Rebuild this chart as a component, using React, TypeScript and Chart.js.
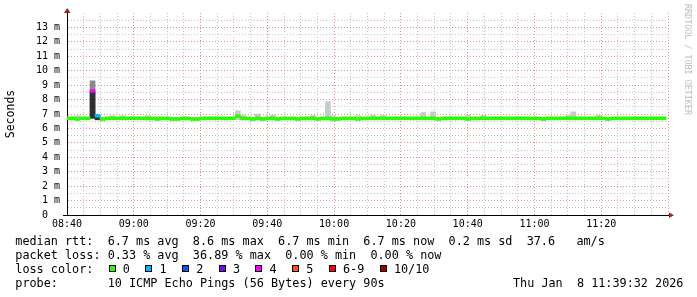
import React, { useEffect, useRef } from "react";
import { Chart, registerables } from "chart.js";

Chart.register(...registerables);

// ---- tick labels ----
const timeLabels = ["08:40", "09:00", "09:20", "09:40", "10:00", "10:20", "10:40", "11:00", "11:20"];
const yTickLabels = ["0  ", "1 m", "2 m", "3 m", "4 m", "5 m", "6 m", "7 m", "8 m", "9 m", "10 m", "11 m", "12 m", "13 m"];

// ---- per 90 s step values (ms), first entry is the partial step at the left edge ----
const medianMs = [
  6.7, 6.7, 6.65, 6.7, 6.7, 8.6, 6.88, 6.65, 6.7, 6.7,
  6.7, 6.7, 6.7, 6.7, 6.7, 6.7, 6.7, 6.7, 6.65, 6.7,
  6.7, 6.65, 6.65, 6.7, 6.7, 6.65, 6.65, 6.7, 6.7, 6.7,
  6.7, 6.7, 6.7, 6.7, 6.85, 6.7, 6.7, 6.65, 6.7, 6.65,
  6.7, 6.7, 6.65, 6.7, 6.7, 6.7, 6.65, 6.7, 6.7, 6.7,
  6.65, 6.7, 6.7, 6.65, 6.65, 6.7, 6.7, 6.7, 6.65, 6.7,
  6.7, 6.7, 6.7, 6.7, 6.7, 6.7, 6.7, 6.7, 6.7, 6.7,
  6.7, 6.7, 6.7, 6.7, 6.65, 6.7, 6.7, 6.7, 6.7, 6.7,
  6.65, 6.7, 6.7, 6.7, 6.7, 6.7, 6.7, 6.7, 6.7, 6.7,
  6.7, 6.7, 6.7, 6.7, 6.7, 6.65, 6.7, 6.7, 6.7, 6.7,
  6.7, 6.7, 6.7, 6.7, 6.7, 6.7, 6.7, 6.7, 6.65, 6.7,
  6.7, 6.7, 6.7, 6.7, 6.7, 6.7, 6.7, 6.7, 6.7, 6.7,
];

// lost pings (of 10) per step
const lossPings = [
  0, 0, 0, 0, 0, 4, 1, 0, 0, 0,
  0, 0, 0, 0, 0, 0, 0, 0, 0, 0,
  0, 0, 0, 0, 0, 0, 0, 0, 0, 0,
  0, 0, 0, 0, 0, 0, 0, 0, 0, 0,
  0, 0, 0, 0, 0, 0, 0, 0, 0, 0,
  0, 0, 0, 0, 0, 0, 0, 0, 0, 0,
  0, 0, 0, 0, 0, 0, 0, 0, 0, 0,
  0, 0, 0, 0, 0, 0, 0, 0, 0, 0,
  0, 0, 0, 0, 0, 0, 0, 0, 0, 0,
  0, 0, 0, 0, 0, 0, 0, 0, 0, 0,
  0, 0, 0, 0, 0, 0, 0, 0, 0, 0,
  0, 0, 0, 0, 0, 0, 0, 0, 0, 0,
];

// fastest / slowest ping per step (smoke)
const smokeLowMs = [
  6.6, 6.6, 6.6, 6.6, 6.6, 6.68, 6.6, 6.6, 6.6, 6.6,
  6.6, 6.6, 6.6, 6.6, 6.6, 6.6, 6.6, 6.6, 6.6, 6.6,
  6.6, 6.6, 6.6, 6.6, 6.6, 6.6, 6.6, 6.6, 6.6, 6.6,
  6.6, 6.6, 6.6, 6.6, 6.6, 6.6, 6.6, 6.6, 6.6, 6.6,
  6.6, 6.6, 6.6, 6.6, 6.6, 6.6, 6.6, 6.6, 6.6, 6.6,
  6.6, 6.6, 6.6, 6.6, 6.6, 6.6, 6.6, 6.6, 6.6, 6.6,
  6.6, 6.6, 6.6, 6.6, 6.6, 6.6, 6.6, 6.6, 6.6, 6.6,
  6.6, 6.6, 6.6, 6.6, 6.6, 6.6, 6.6, 6.6, 6.6, 6.6,
  6.6, 6.6, 6.6, 6.6, 6.6, 6.6, 6.6, 6.6, 6.6, 6.6,
  6.6, 6.6, 6.6, 6.6, 6.6, 6.6, 6.6, 6.6, 6.6, 6.6,
  6.6, 6.6, 6.6, 6.6, 6.6, 6.6, 6.6, 6.6, 6.6, 6.6,
  6.6, 6.6, 6.6, 6.6, 6.6, 6.6, 6.6, 6.6, 6.6, 6.6,
];
const smokeHighMs = [
  6.78, 6.78, 6.88, 6.78, 6.78, 9.3, 6.9, 6.78, 6.78, 6.88,
  6.78, 6.88, 6.78, 6.78, 6.78, 6.78, 6.88, 6.78, 6.85, 6.78,
  6.78, 6.78, 6.78, 6.78, 6.78, 6.78, 6.78, 6.78, 6.78, 6.78,
  6.78, 6.78, 6.78, 6.78, 7.22, 6.9, 6.78, 6.78, 7.0, 6.78,
  6.78, 6.9, 6.78, 6.78, 6.78, 6.78, 6.78, 6.78, 6.78, 6.9,
  6.78, 6.78, 7.85, 6.88, 6.78, 6.78, 6.78, 6.78, 6.88, 6.78,
  6.78, 6.9, 6.78, 6.9, 6.78, 6.78, 6.78, 6.78, 6.78, 6.78,
  6.78, 7.1, 6.78, 7.15, 6.78, 6.78, 6.78, 6.78, 6.78, 6.78,
  6.9, 6.78, 6.78, 6.9, 6.78, 6.78, 6.78, 6.78, 6.78, 6.78,
  6.78, 6.78, 6.78, 6.78, 6.78, 6.78, 6.78, 6.78, 6.78, 6.78,
  6.9, 7.15, 6.78, 6.78, 6.78, 6.78, 6.9, 6.78, 6.78, 6.78,
  6.78, 6.78, 6.78, 6.78, 6.78, 6.78, 6.78, 6.78, 6.78, 6.78,
];
// dense smoke band (where most pings overlap), only where visible
const denseLowMs: (number | null)[] = [
  null, null, null, null, null, 6.72, 6.6, null, null, null,
];
const denseHighMs: (number | null)[] = [
  null, null, null, null, null, 8.55, 6.78, null, null, null,
];

// ---- legend content ----
const lossLegend = ["0", "1", "2", "3", "4", "5", "6-9", "10/10"];
const lossColors = ["#26ff00", "#00b8ff", "#0059ff", "#7e00ff", "#ff00ff", "#ff5500", "#ff0000", "#a10000"];
const rttLine = "median rtt:  6.7 ms avg  8.6 ms max  6.7 ms min  6.7 ms now  0.2 ms sd  37.6   am/s";
const lossLine = "packet loss: 0.33 % avg  36.89 % max  0.00 % min  0.00 % now";
const probeLine = "probe:       10 ICMP Echo Pings (56 Bytes) every 90s";
const dateText = "Thu Jan  8 11:39:32 2026";

const MONO = "'DejaVu Sans Mono', monospace";
const lineTop = (n: number) => 234.3 + 14 * n;

export default function App() {
  const ref = useRef<HTMLCanvasElement>(null);

  useEffect(() => {
    const canvas = ref.current;
    if (!canvas) return;
    const times = medianMs.map((_, i) => 0.15 + 1.5 * i);
    const lossIdx = (n: number) => (n >= 10 ? 7 : n >= 6 ? 6 : n);
    const major = "rgba(225,130,130,0.9)";
    const minor = "rgba(190,190,190,0.9)";

    const decor = {
      id: "decor",
      afterDraw(chart: any) {
        const { ctx, chartArea: a } = chart;
        ctx.save();
        ctx.strokeStyle = "#000";
        ctx.lineWidth = 1;
        ctx.beginPath();
        ctx.moveTo(a.left - 4, Math.round(a.bottom) + 0.5);
        ctx.lineTo(a.left, Math.round(a.bottom) + 0.5);
        ctx.stroke();
        ctx.fillStyle = "#a02020";
        ctx.beginPath();
        ctx.moveTo(a.left - 3, a.top);
        ctx.lineTo(a.left + 3.5, a.top);
        ctx.lineTo(a.left + 0.25, a.top - 5);
        ctx.closePath();
        ctx.fill();
        ctx.beginPath();
        ctx.moveTo(a.right + 1, a.bottom - 2.5);
        ctx.lineTo(a.right + 1, a.bottom + 3);
        ctx.lineTo(a.right + 6, a.bottom + 0.25);
        ctx.closePath();
        ctx.fill();
        ctx.restore();
      },
    };

    const chart = new Chart(canvas, {
      type: "bar",
      data: {
        datasets: [
          {
            label: "median",
            data: medianMs.map((m, i) => ({ x: times[i], y: [m - 0.1, m + 0.1] })) as any,
            backgroundColor: lossPings.map((n) => lossColors[lossIdx(n)]),
            order: 0,
          },
          {
            label: "dense",
            data: denseLowMs.flatMap((lo, i) =>
              lo == null ? [] : [{ x: times[i], y: [lo, denseHighMs[i] as number] }]
            ) as any,
            backgroundColor: "#303030",
            order: 1,
          },
          {
            label: "smoke",
            data: smokeLowMs.map((lo, i) => ({ x: times[i], y: [lo, smokeHighMs[i]] })) as any,
            backgroundColor: (c: any) => (denseLowMs[c.dataIndex] != null ? "#8a8a8a" : "#c8c8c8"),
            order: 2,
          },
        ],
      },
      options: {
        animation: false,
        responsive: false,
        devicePixelRatio: 1,
        layout: { padding: { left: 0, right: 29, top: 13, bottom: 0 } },
        plugins: { legend: { display: false }, tooltip: { enabled: false } },
        datasets: {
          bar: { grouped: false, barPercentage: 1, categoryPercentage: 1, borderWidth: 0 },
        },
        scales: {
          x: {
            type: "linear",
            min: 0,
            max: 180,
            offset: false,
            grid: {
              offset: false,
              drawTicks: false,
              lineWidth: 1,
              color: (c: any) => (c.tick && c.tick.value % 20 === 0 ? major : minor),
            },
            border: { display: true, color: "#000", width: 1, dash: [1, 2] },
            ticks: {
              stepSize: 5,
              autoSkip: false,
              maxRotation: 0,
              minRotation: 0,
              padding: 3,
              color: "#000",
              font: { family: MONO, size: 10 },
              callback: (v: any) => (v % 20 === 0 ? timeLabels[v / 20] ?? "" : ""),
            },
            afterFit: (s: any) => {
              s.height = 82;
            },
          },
          y: {
            type: "linear",
            min: 0,
            max: 14,
            afterBuildTicks: (s: any) => {
              s.ticks = Array.from({ length: 28 }, (_, i) => ({ value: i * 0.5 }));
            },
            grid: {
              drawTicks: false,
              lineWidth: 1,
              color: (c: any) => (c.tick && Number.isInteger(c.tick.value) ? major : minor),
            },
            border: { display: true, color: "#000", width: 1, dash: [1, 2] },
            ticks: {
              autoSkip: false,
              padding: 7,
              color: "#000",
              font: { family: MONO, size: 10 },
              callback: (v: any) => (Number.isInteger(v) ? yTickLabels[v] ?? "" : ""),
            },
            title: {
              display: true,
              text: "Seconds",
              color: "#000",
              font: { family: MONO, size: 11.5 },
              padding: { top: 4, bottom: 0 },
            },
            afterFit: (s: any) => {
              s.width = 67;
            },
          },
        },
      },
      plugins: [decor],
    } as any);
    return () => chart.destroy();
  }, []);

  const txt: React.CSSProperties = {
    position: "absolute",
    fontFamily: MONO,
    fontSize: "11.8px",
    lineHeight: "14px",
    whiteSpace: "pre",
    color: "#000",
  };

  let lx = 108.5;
  const lossItems = lossLegend.map((label, i) => {
    const bx = lx;
    lx += 14.3 + label.length * 7.1 + 15.3;
    return (
      <React.Fragment key={label}>
        <div
          style={{
            position: "absolute",
            left: bx,
            top: 265,
            width: 7,
            height: 7,
            boxSizing: "border-box",
            border: "1px solid #000",
            background: lossColors[i],
          }}
        />
        <span style={{ ...txt, left: bx + 14.3, top: lineTop(2) }}>{label}</span>
      </React.Fragment>
    );
  });

  return (
    <div
      style={{
        position: "absolute",
        left: 0,
        top: 0,
        width: 697,
        height: 297,
        background: "#fff",
        overflow: "hidden",
      }}
    >
      <canvas ref={ref} width={697} height={297} style={{ position: "absolute", left: 0, top: 0 }} />
      <span
        style={{
          position: "absolute",
          left: 683.8,
          top: 4,
          writingMode: "vertical-rl",
          fontFamily: MONO,
          fontSize: "8.4px",
          lineHeight: "8.4px",
          color: "#bdbdbd",
          whiteSpace: "pre",
        }}
      >
        RRDTOOL / TOBI OETIKER
      </span>
      <span style={{ ...txt, left: 15.3, top: lineTop(0) }}>{rttLine}</span>
      <span style={{ ...txt, left: 15.3, top: lineTop(1) }}>{lossLine}</span>
      <span style={{ ...txt, left: 15.3, top: lineTop(2) }}>loss color:</span>
      {lossItems}
      <span style={{ ...txt, left: 15.3, top: lineTop(3) }}>{probeLine}</span>
      <span style={{ ...txt, left: 513, top: lineTop(3) }}>{dateText}</span>
    </div>
  );
}
